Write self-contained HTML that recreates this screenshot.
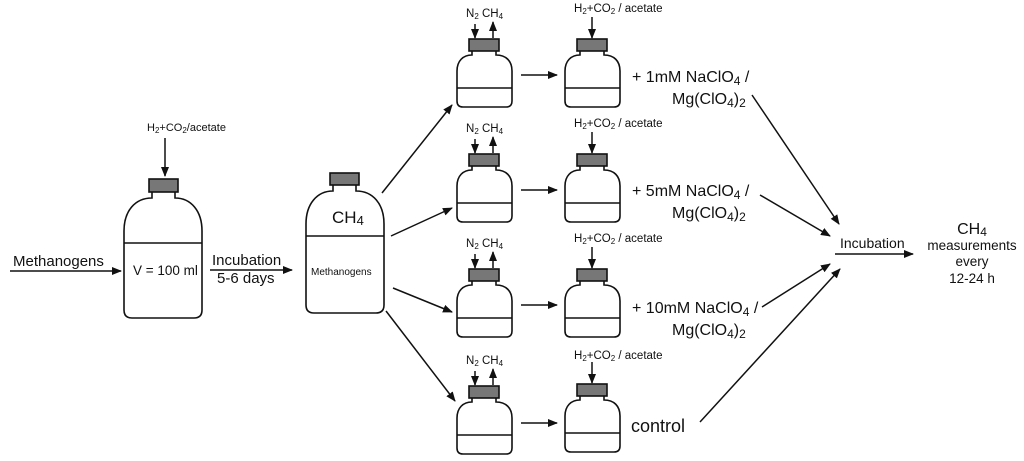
<!DOCTYPE html>
<html><head><meta charset="utf-8"><style>
html,body{margin:0;padding:0;background:#fff;}
svg{display:block;font-family:"Liberation Sans",Arial,sans-serif;}
</style></head><body>
<svg width="1024" height="461" viewBox="0 0 1024 461" xmlns="http://www.w3.org/2000/svg">
<defs>
<marker id="a" markerWidth="10" markerHeight="8" refX="9" refY="4" orient="auto" markerUnits="userSpaceOnUse">
<path d="M0,0 L10,4 L0,8 Z" fill="#111"/></marker>
</defs>
<g stroke="#111" stroke-width="1.6" fill="none">
<g transform="translate(149,179)">
<rect x="0" y="0" width="29" height="13" fill="#777" stroke="#111"/>
<path d="M3,13 L3,19 C-14,19 -25,32 -25,52 L-25,131 Q-25,139 -17,139 L45,139 Q53,139 53,131 L53,52 C53,32 42,19 26,19 L26,13" fill="none"/>
<line x1="-25" y1="64" x2="53" y2="64"/>
</g>
<g transform="translate(330,173)">
<rect x="0" y="0" width="29" height="12" fill="#777"/>
<path d="M3,12 L3,18 C-13,18 -24,31 -24,51 L-24,132 Q-24,140 -16,140 L46,140 Q54,140 54,132 L54,51 C54,31 43,18 26,18 L26,12"/>
<line x1="-24" y1="63" x2="54" y2="63"/>
</g>
<g transform="translate(0,0)">
<g transform="translate(469,39)"><rect x="0" y="0" width="30" height="12" fill="#777"/><path d="M3,12 L3,16 C-6,16 -12,22 -12,32 L-12,62 Q-12,68 -6,68 L37,68 Q43,68 43,62 L43,32 C43,22 37,16 27,16 L27,12"/><line x1="-12" y1="49" x2="43" y2="49"/></g>
<g transform="translate(577,39)"><rect x="0" y="0" width="30" height="12" fill="#777"/><path d="M3,12 L3,16 C-6,16 -12,22 -12,32 L-12,62 Q-12,68 -6,68 L37,68 Q43,68 43,62 L43,32 C43,22 37,16 27,16 L27,12"/><line x1="-12" y1="49" x2="43" y2="49"/></g>
</g>
<g transform="translate(0,115)">
<g transform="translate(469,39)"><rect x="0" y="0" width="30" height="12" fill="#777"/><path d="M3,12 L3,16 C-6,16 -12,22 -12,32 L-12,62 Q-12,68 -6,68 L37,68 Q43,68 43,62 L43,32 C43,22 37,16 27,16 L27,12"/><line x1="-12" y1="49" x2="43" y2="49"/></g>
<g transform="translate(577,39)"><rect x="0" y="0" width="30" height="12" fill="#777"/><path d="M3,12 L3,16 C-6,16 -12,22 -12,32 L-12,62 Q-12,68 -6,68 L37,68 Q43,68 43,62 L43,32 C43,22 37,16 27,16 L27,12"/><line x1="-12" y1="49" x2="43" y2="49"/></g>
</g>
<g transform="translate(0,230)">
<g transform="translate(469,39)"><rect x="0" y="0" width="30" height="12" fill="#777"/><path d="M3,12 L3,16 C-6,16 -12,22 -12,32 L-12,62 Q-12,68 -6,68 L37,68 Q43,68 43,62 L43,32 C43,22 37,16 27,16 L27,12"/><line x1="-12" y1="49" x2="43" y2="49"/></g>
<g transform="translate(577,39)"><rect x="0" y="0" width="30" height="12" fill="#777"/><path d="M3,12 L3,16 C-6,16 -12,22 -12,32 L-12,62 Q-12,68 -6,68 L37,68 Q43,68 43,62 L43,32 C43,22 37,16 27,16 L27,12"/><line x1="-12" y1="49" x2="43" y2="49"/></g>
</g>
<g transform="translate(0,347)">
<g transform="translate(469,39)"><rect x="0" y="0" width="30" height="12" fill="#777"/><path d="M3,12 L3,16 C-6,16 -12,22 -12,32 L-12,62 Q-12,68 -6,68 L37,68 Q43,68 43,62 L43,32 C43,22 37,16 27,16 L27,12"/><line x1="-12" y1="49" x2="43" y2="49"/></g>
<g transform="translate(577,37)"><rect x="0" y="0" width="30" height="12" fill="#777"/><path d="M3,12 L3,16 C-6,16 -12,22 -12,32 L-12,62 Q-12,68 -6,68 L37,68 Q43,68 43,62 L43,32 C43,22 37,16 27,16 L27,12"/><line x1="-12" y1="49" x2="43" y2="49"/></g>
</g>
</g>
<g stroke="#111" stroke-width="1.5" marker-end="url(#a)">
<line x1="10" y1="271" x2="121" y2="271"/>
<line x1="165" y1="138" x2="165" y2="176"/>
<line x1="210" y1="270" x2="292" y2="270"/>
<line x1="382" y1="193" x2="452" y2="105"/>
<line x1="391" y1="236" x2="452" y2="208"/>
<line x1="393" y1="288" x2="452" y2="312"/>
<line x1="386" y1="311" x2="455" y2="401"/>
<line x1="521" y1="75" x2="557" y2="75"/>
<line x1="521" y1="190" x2="557" y2="190"/>
<line x1="521" y1="305" x2="557" y2="305"/>
<line x1="521" y1="423" x2="557" y2="423"/>
<line x1="752" y1="95" x2="839" y2="224"/>
<line x1="760" y1="195" x2="830" y2="236"/>
<line x1="762" y1="307" x2="830" y2="264"/>
<line x1="700" y1="422" x2="840" y2="269"/>
<line x1="835" y1="254" x2="913" y2="254"/>
</g>
<g stroke="#111" stroke-width="1.5" marker-end="url(#a)">
<line x1="475" y1="24" x2="475" y2="38"/><line x1="493" y1="38" x2="493" y2="22"/><line x1="592" y1="17" x2="592" y2="38"/>
<line x1="475" y1="139" x2="475" y2="153"/><line x1="493" y1="153" x2="493" y2="137"/><line x1="592" y1="132" x2="592" y2="153"/>
<line x1="475" y1="254" x2="475" y2="268"/><line x1="493" y1="268" x2="493" y2="252"/><line x1="592" y1="247" x2="592" y2="268"/>
<line x1="475" y1="371" x2="475" y2="385"/><line x1="493" y1="385" x2="493" y2="369"/><line x1="592" y1="362" x2="592" y2="383"/>
</g>
<g fill="#111">
<text x="13" y="266" font-size="15">Methanogens</text>
<text x="133" y="275" font-size="13.5">V = 100 ml</text>
<text x="212" y="265" font-size="15">Incubation</text>
<text x="217" y="283" font-size="15">5-6 days</text>
<text x="332" y="223" font-size="17">CH<tspan font-size="13" dy="2">4</tspan></text>
<text x="311" y="275" font-size="10">Methanogens</text>
<text x="147" y="131" font-size="11">H<tspan font-size="8" dy="2">2</tspan><tspan dy="-2">+CO</tspan><tspan font-size="8" dy="2">2</tspan><tspan dy="-2">/acetate</tspan></text>
<g font-size="11.5">
<text x="466" y="17">N<tspan font-size="8" dy="2">2</tspan><tspan dy="-2"> CH</tspan><tspan font-size="8" dy="2">4</tspan></text>
<text x="574" y="12">H<tspan font-size="8" dy="2">2</tspan><tspan dy="-2">+CO</tspan><tspan font-size="8" dy="2">2</tspan><tspan dy="-2"> / acetate</tspan></text>
<text x="466" y="132">N<tspan font-size="8" dy="2">2</tspan><tspan dy="-2"> CH</tspan><tspan font-size="8" dy="2">4</tspan></text>
<text x="574" y="127">H<tspan font-size="8" dy="2">2</tspan><tspan dy="-2">+CO</tspan><tspan font-size="8" dy="2">2</tspan><tspan dy="-2"> / acetate</tspan></text>
<text x="466" y="247">N<tspan font-size="8" dy="2">2</tspan><tspan dy="-2"> CH</tspan><tspan font-size="8" dy="2">4</tspan></text>
<text x="574" y="242">H<tspan font-size="8" dy="2">2</tspan><tspan dy="-2">+CO</tspan><tspan font-size="8" dy="2">2</tspan><tspan dy="-2"> / acetate</tspan></text>
<text x="466" y="364">N<tspan font-size="8" dy="2">2</tspan><tspan dy="-2"> CH</tspan><tspan font-size="8" dy="2">4</tspan></text>
<text x="574" y="359">H<tspan font-size="8" dy="2">2</tspan><tspan dy="-2">+CO</tspan><tspan font-size="8" dy="2">2</tspan><tspan dy="-2"> / acetate</tspan></text>
</g>
<g font-size="16">
<text x="632" y="82">+ 1mM NaClO<tspan font-size="12" dy="3">4</tspan><tspan dy="-3"> /</tspan></text>
<text x="672" y="104">Mg(ClO<tspan font-size="12" dy="3">4</tspan><tspan dy="-3">)</tspan><tspan font-size="12" dy="3">2</tspan></text>
<text x="632" y="196">+ 5mM NaClO<tspan font-size="12" dy="3">4</tspan><tspan dy="-3"> /</tspan></text>
<text x="672" y="218">Mg(ClO<tspan font-size="12" dy="3">4</tspan><tspan dy="-3">)</tspan><tspan font-size="12" dy="3">2</tspan></text>
<text x="632" y="313">+ 10mM NaClO<tspan font-size="12" dy="3">4</tspan><tspan dy="-3"> /</tspan></text>
<text x="672" y="335">Mg(ClO<tspan font-size="12" dy="3">4</tspan><tspan dy="-3">)</tspan><tspan font-size="12" dy="3">2</tspan></text>
<text x="631" y="432" font-size="18">control</text>
</g>
<text x="840" y="248" font-size="14">Incubation</text>
<g font-size="13.5" text-anchor="middle">
<text x="972" y="234" font-size="16">CH<tspan font-size="12" dy="2">4</tspan></text>
<text x="972" y="250">measurements</text>
<text x="972" y="266">every</text>
<text x="972" y="283">12-24 h</text>
</g>
</g>
</svg>
</body></html>
